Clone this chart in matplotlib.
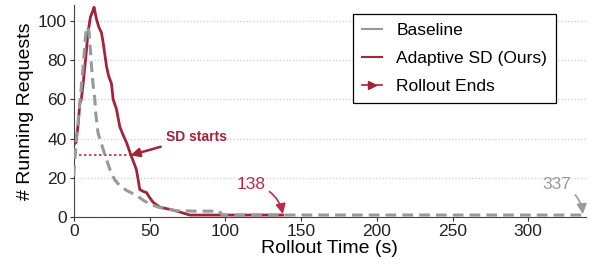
import matplotlib.pyplot as plt
from matplotlib.lines import Line2D

plt.rcParams['font.family'] = ['Liberation Sans', 'DejaVu Sans']

# Adaptive SD (ours): time (s) vs running requests
sd_t = [0, 1.5, 3, 4, 5, 6.2, 8, 9.4, 11, 12.5, 13.4, 15, 16.5, 18.3, 19.4, 21.6, 23, 24.9,
        26, 28.2, 30.4, 32.5, 34.8, 38, 40, 41.4, 42.5, 43.6, 46, 48, 50, 52.4, 56.8, 63,
        68, 76.5, 90, 110, 130, 138]
sd_y = [37, 38, 48, 58, 60, 68, 82, 94, 102, 105, 107, 101, 97, 94, 89, 77, 72, 68,
        60, 55, 46, 42, 38, 31, 27, 24, 19, 14, 13, 12.5, 10, 7.5, 5, 4,
        3, 1, 1, 1, 1, 1]

# Baseline
bl_t = [0, 0.8, 1.8, 3, 4.5, 6.2, 7.5, 8.4, 10, 11, 11.7, 12.7, 13.9, 14.5, 16, 19.4,
        23.8, 27, 30.4, 35, 41.4, 46, 50, 56, 62, 68, 80, 96, 98, 110, 150, 200, 250,
        300, 337]
bl_y = [21, 30, 40, 50, 62, 77, 90, 97, 95, 85, 77, 68, 60, 53, 43, 34.5,
        24.4, 19, 16, 13.5, 11, 8.5, 6.6, 5, 4, 3.2, 3, 3, 1, 1, 1, 1, 1,
        1, 1]

sd_end, bl_end = 138, 337
sd_start_y = 31.5

red = '#A3233A'
red_txt = '#C0284A'
gray = '#999999'

fig, ax = plt.subplots(figsize=(5.9, 2.64), dpi=100)
ax.plot(sd_t, sd_y, color=red, lw=2, zorder=3)
ax.plot(bl_t, bl_y, color=gray, lw=2.2, ls=(0, (3.5, 2)), zorder=4)

# SD start marker
ax.plot([0, 37], [sd_start_y, sd_start_y], color=red_txt, lw=1.2, ls=(0, (1.5, 1.5)), zorder=2)
ax.annotate('SD starts', xy=(37.5, sd_start_y), xytext=(61, 41),
            color=red, fontsize=10, fontweight='bold', ha='left', va='center',
            arrowprops=dict(arrowstyle='-|>', color=red, lw=1.8, mutation_scale=13,
                            shrinkA=2, shrinkB=0))

# rollout end arrows
ax.annotate(str(sd_end), xy=(sd_end, 1.5), xytext=(117, 16.5), color=red_txt, fontsize=12.5,
            ha='center', va='center', zorder=6,
            arrowprops=dict(arrowstyle='-|>', color=red_txt, lw=1.2, mutation_scale=15,
                            connectionstyle='arc3,rad=-0.35', shrinkA=1, shrinkB=0))
ax.annotate(str(bl_end), xy=(bl_end - 1, 1.5), xytext=(319, 16.5), color=gray, fontsize=12.5,
            ha='center', va='center', zorder=6,
            arrowprops=dict(arrowstyle='-|>', color=gray, lw=1.2, mutation_scale=15,
                            connectionstyle='arc3,rad=-0.35', shrinkA=1, shrinkB=0))

ax.set_xlim(0, 338)
ax.set_ylim(0, 108)
ax.set_xticks([0, 50, 100, 150, 200, 250, 300])
ax.set_yticks([0, 20, 40, 60, 80, 100])
ax.tick_params(labelsize=12.5, length=3, color='#333333', labelcolor='#222222', pad=2)
ax.yaxis.grid(True, ls=':', color='#cccccc', lw=0.9)
ax.set_axisbelow(True)
for s in ['top', 'right']:
    ax.spines[s].set_visible(False)
for s in ['left', 'bottom']:
    ax.spines[s].set_color('#444444')
ax.set_xlabel('Rollout Time (s)', fontsize=14, labelpad=1)
ax.set_ylabel('# Running Requests', fontsize=14, labelpad=3)

handles = [Line2D([], [], color=gray, lw=1.5, ls='-'),
           Line2D([], [], color=red, lw=1.5),
           Line2D([], [], color=red, lw=1.2, marker='>', markersize=6, markevery=[1])]
leg = ax.legend(handles, ['Baseline', 'Adaptive SD (Ours)', 'Rollout Ends'],
                loc='upper left', bbox_to_anchor=(0.545, 0.958), borderaxespad=0,
                fontsize=12.5, fancybox=False, edgecolor='black', framealpha=1,
                handlelength=1.2, labelspacing=0.75, borderpad=0.5)
leg.get_frame().set_linewidth(0.9)

plt.subplots_adjust(left=0.125, right=0.993, top=0.98, bottom=0.178)
plt.savefig('out.png', dpi=100)
